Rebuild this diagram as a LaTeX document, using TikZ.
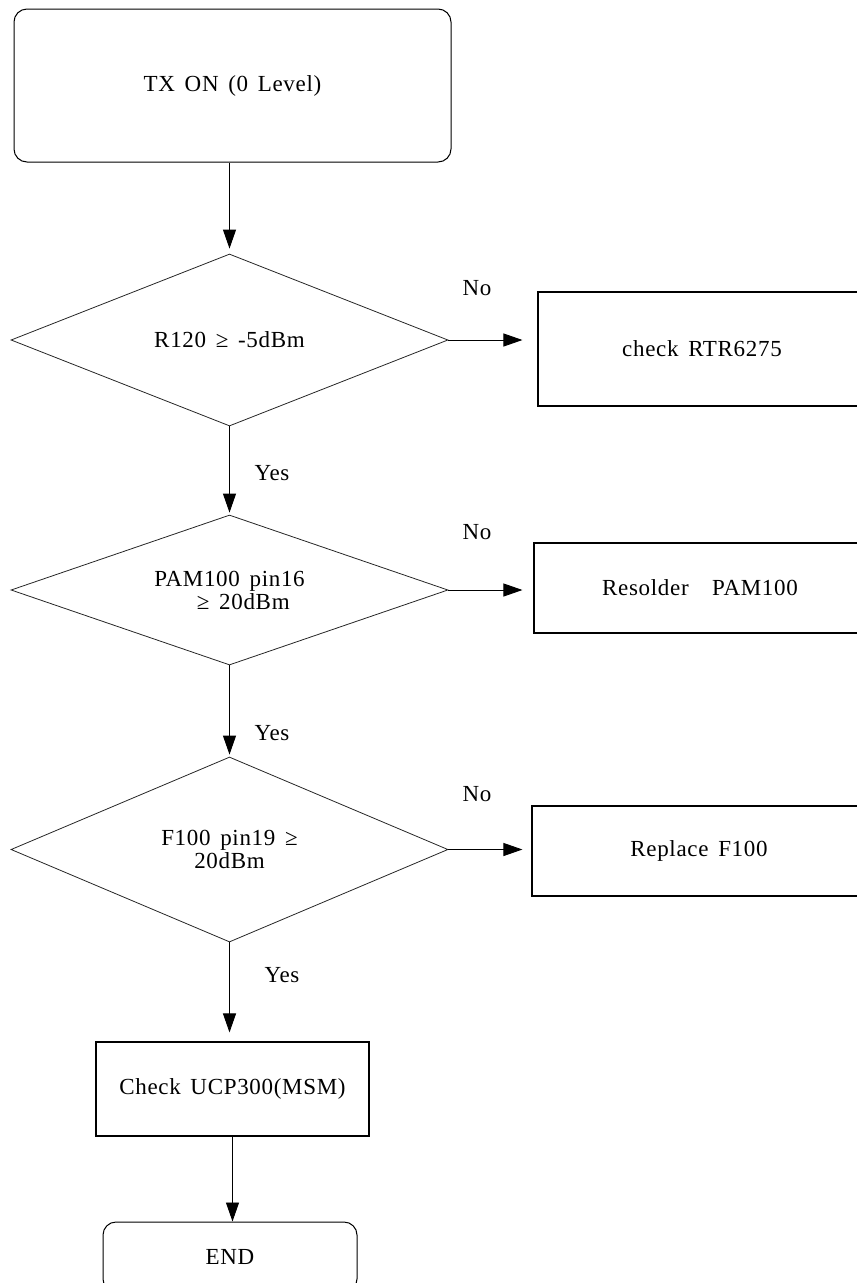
\documentclass[tikz,border=0pt]{standalone}
\usepackage{fontspec}
\setmainfont{Liberation Serif}[WordSpace=1.5, LetterSpace=3]
\usepackage{tikz}
\usetikzlibrary{shapes.geometric, arrows.meta, positioning}
\newcommand{\flowfont}{\fontsize{23}{23}\selectfont}
\tikzset{
  startbox/.style={draw, rounded corners=13pt, line width=1pt,
    minimum width=437pt, minimum height=153pt, font=\flowfont},
  endbox/.style={draw, rounded corners=13pt, line width=1pt,
    minimum width=254pt, minimum height=70pt, font=\flowfont},
  testbox/.style={draw=black!85, shape=diamond, aspect=2.5, inner sep=0pt,
    line width=0.8pt, minimum width=437pt, align=center, font=\flowfont},
  actbox/.style={draw, line width=1.1pt, minimum height=90pt,
    align=center, font=\flowfont},
  flowarrow/.style={-{Triangle[length=19pt,width=13pt]}, line width=0.9pt},
  lbl/.style={font=\flowfont, inner sep=0pt}
}

\begin{document}
\begin{tikzpicture}[x=1pt, y=-1pt]
  \useasboundingbox (0,0) rectangle (857,1283);

  \node[startbox] (start) at (232.5,85.5) {TX ON (0 Level)};

  \node[testbox, minimum height=172pt] (r120) at (229.5,340) {R120 ≥ -5dBm};
  \node[testbox, minimum height=150pt] (pam)  at (229.5,590)
      {PAM100 pin16\\\hspace*{1.2em}≥ 20dBm};
  \node[testbox, minimum height=185pt] (f100) at (229.5,849.5)
      {F100 pin19 ≥\\20dBm};

  \node[actbox, minimum width=328pt, minimum height=114pt] (rtr) at (702,349) {check RTR6275};
  \node[actbox, minimum width=332pt] (resolder) at (700,588) {Resolder\hspace{0.6em} PAM100};
  \node[actbox, minimum width=334pt] (replace)  at (699,851) {Replace F100};

  \node[actbox, minimum width=273pt, minimum height=94pt] (ucp) at (232.5,1089) {Check UCP300(MSM)};
  \node[endbox] (fin) at (230,1257) {END};

  % main line
  \draw[flowarrow, shorten >=5pt] (r120.north |- start.south) -- (r120.north);
  \draw[flowarrow, shorten >=2pt] (r120.south) -- (pam.north);
  \draw[flowarrow, shorten >=2pt] (pam.south) -- (f100.north);
  \draw[flowarrow, shorten >=9pt] (f100.south) -- (f100.south |- ucp.north);
  \draw[flowarrow] (ucp.south) -- (ucp.south |- fin.north);

  % fail branches
  \draw[flowarrow, shorten >=15pt] (r120.east) -- (r120.east -| rtr.west);
  \draw[flowarrow, shorten >=11pt] (pam.east) -- (pam.east -| resolder.west);
  \draw[flowarrow, shorten >=9pt] (f100.east) -- (f100.east -| replace.west);

  \node[lbl] (no1) at (477,288) {No};
  \node[lbl] (no2) at (477,532) {No};
  \node[lbl] (no3) at (477,794) {No};
  \node[lbl] (yes1) at (272,473) {Yes};
  \node[lbl] (yes2) at (272,733) {Yes};
  \node[lbl] (yes3) at (282,975) {Yes};
\end{tikzpicture}
\end{document}
